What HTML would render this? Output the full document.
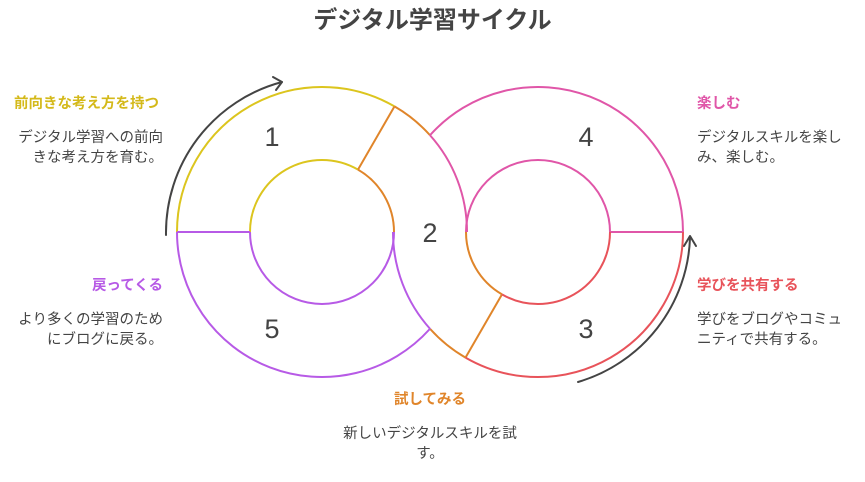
<!DOCTYPE html>
<html><head><meta charset="utf-8"><style>
html,body{margin:0;padding:0;background:#fff;}
body{width:865px;height:482px;position:relative;overflow:hidden;font-family:"Liberation Sans","Noto Sans CJK JP",sans-serif;}
.t{position:absolute;font-size:14.5px;line-height:20px;color:#444;white-space:nowrap;}
.h{font-weight:bold;font-size:14.5px;}
</style></head><body>
<svg width="865" height="482" style="position:absolute;left:0;top:0" fill="none" stroke-width="2">
<g stroke="#dcc51e">
<path d="M177,232 A145,145 0 0 1 394.5,106.4"/>
<path d="M250,232 A72,72 0 0 1 358,169.6"/>
</g>
<g stroke="#e0852a">
<path d="M394.5,106.4 A145,145 0 0 1 429.8,135"/>
<path d="M358,169.6 A72,72 0 0 1 394,232"/>
<path d="M466,232 A72,72 0 0 0 502,294.4"/>
<path d="M430.2,329 A145,145 0 0 0 465.5,357.6"/>
<path d="M394.5,106.4 L358,169.6"/>
<path d="M465.5,357.6 L502,294.4"/>
</g>
<g stroke="#e056a8">
<path d="M429.8,135 A145,145 0 0 1 467,232"/>
<path d="M430.2,135 A145,145 0 0 1 683,232"/>
<path d="M466,232 A72,72 0 0 1 610,232"/>
<path d="M610,232 L683,232"/>
</g>
<g stroke="#b75ae6">
<path d="M177,232 A145,145 0 0 0 429.8,329"/>
<path d="M250,232 A72,72 0 0 0 394,232"/>
<path d="M393,232 A145,145 0 0 0 430.2,329"/>
<path d="M177,232 L250,232"/>
</g>
<g stroke="#e8535a">
<path d="M683,232 A145,145 0 0 1 465.5,357.6"/>
<path d="M610,232 A72,72 0 0 1 502,294.4"/>
</g>
<g stroke="#444" stroke-width="2" stroke-linecap="round" stroke-linejoin="round">
<path d="M166,235 A156,156 0 0 1 282,82"/>
<path d="M273,77 L282,82 L276,90"/>
<path d="M578,382 A156,156 0 0 0 690,238"/>
<path d="M684,246 L690,236 L696,246"/>
</g>
<g fill="#444" stroke="none" font-family="Liberation Sans, sans-serif" font-size="27" text-anchor="middle">
<text x="272" y="146">1</text>
<text x="586" y="146">4</text>
<text x="430" y="242">2</text>
<text x="272" y="338">5</text>
<text x="586" y="338">3</text>
</g>
</svg>
<div class="t" style="left:0;width:865px;top:5px;text-align:center;font-size:24px;line-height:32px;font-weight:bold;color:#444;">デジタル学習サイクル</div>

<div class="t h" style="left:14px;top:94px;color:#d4b91a;">前向きな考え方を持つ</div>
<div class="t" style="right:702px;top:128px;width:160px;text-align:right;">デジタル学習への前向<br>きな考え方を育む。</div>

<div class="t h" style="right:702px;top:276px;color:#b75ae6;">戻ってくる</div>
<div class="t" style="right:702px;top:310px;width:160px;text-align:right;">より多くの学習のため<br>にブログに戻る。</div>

<div class="t h" style="left:697px;top:94px;color:#e056a8;">楽しむ</div>
<div class="t" style="left:697px;top:128px;width:160px;">デジタルスキルを楽し<br>み、楽しむ。</div>

<div class="t h" style="left:697px;top:276px;color:#e8535a;">学びを共有する</div>
<div class="t" style="left:697px;top:310px;width:160px;">学びをブログやコミュ<br>ニティで共有する。</div>

<div class="t h" style="left:330px;width:200px;top:390px;text-align:center;color:#e0852a;">試してみる</div>
<div class="t" style="left:330px;width:200px;top:424px;text-align:center;">新しいデジタルスキルを試<br>す。</div>
</body></html>
